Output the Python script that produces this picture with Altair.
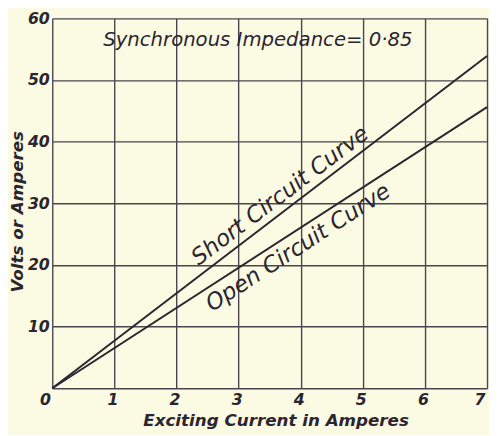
import altair as alt
import pandas as pd

# Data
current = [0, 7]
short_circuit = [0, 53.9]
open_circuit = [0, 45.6]

x_ticks = [0, 1, 2, 3, 4, 5, 6, 7]
y_ticks = [0, 10, 20, 30, 40, 50, 60]

title_text = "Synchronous Impedance= 0·85"
short_label = "Short Circuit Curve"
open_label = "Open Circuit Curve"

INK = "#2b2530"
GRID = "#4a4450"
BG = "#FBFAE2"
FONT = "DejaVu Sans"

lines_df = pd.DataFrame({
    "current": current * 2,
    "value": short_circuit + open_circuit,
    "curve": ["short"] * len(current) + ["open"] * len(current),
})

x_scale = alt.Scale(domain=[0, 7], nice=False, zero=False)
y_scale = alt.Scale(domain=[0, 60], nice=False, zero=False)

x_axis = alt.Axis(
    values=x_ticks, format="d", grid=True, gridColor=GRID, gridWidth=1.4, gridOpacity=1,
    domain=False, ticks=False, labelFont=FONT, labelFontSize=16,
    labelFontStyle="italic", labelFontWeight="bold", labelColor=INK,
    labelPadding=4,
    labelOffset={"condition": {"test": "datum.value == 0", "value": -13}, "value": -2},
    title="Exciting Current in Amperes", titleFont=FONT, titleFontSize=17,
    titleFontStyle="italic", titleFontWeight="bold", titleColor=INK,
    titleX=227, titleY=33, titleBaseline="middle", titleAnchor="middle",
    titleAlign="center",
)
y_axis = alt.Axis(
    values=y_ticks, format="d", grid=True, gridColor=GRID, gridWidth=1.4, gridOpacity=1,
    domain=False, ticks=False, labelFont=FONT, labelFontSize=16,
    labelFontStyle="italic", labelFontWeight="bold", labelColor=INK,
    labelPadding=3, labelExpr="datum.value == 0 ? '' : datum.label",
    title="Volts or Amperes", titleFont=FONT, titleFontSize=17,
    titleFontStyle="italic", titleFontWeight="bold", titleColor=INK,
    titleX=-35, titleY=196, titleAngle=270, titleBaseline="middle",
    titleAlign="center", titleAnchor="middle",
)

lines = alt.Chart(lines_df).mark_line(color=INK, strokeWidth=2).encode(
    x=alt.X("current:Q", scale=x_scale, axis=x_axis),
    y=alt.Y("value:Q", scale=y_scale, axis=y_axis),
    detail="curve:N",
)

def label(text, x, y, angle, size):
    df = pd.DataFrame({"x": [x], "y": [y], "t": [text]})
    return alt.Chart(df).mark_text(
        font=FONT, fontSize=size, fontStyle="italic", color=INK,
        angle=angle, align="center", baseline="middle",
    ).encode(
        x=alt.X("x:Q", scale=x_scale),
        y=alt.Y("y:Q", scale=y_scale),
        text="t:N",
    )

title_mark = label(title_text, 3.31, 56.5, 0, 20)
short_mark = label(short_label, 3.67, 31.2, 323, 23)
open_mark = label(open_label, 3.96, 22.8, 327, 23)

chart = alt.layer(lines, title_mark, short_mark, open_mark).properties(
    width=442, height=376, background=BG,
    autosize=alt.AutoSizeParams(type="none"),
    padding={"left": 45, "top": 7, "right": 2, "bottom": 44},
).configure_view(stroke=None)

chart.save("out.html", embed_options={"renderer": "svg", "actions": False})
